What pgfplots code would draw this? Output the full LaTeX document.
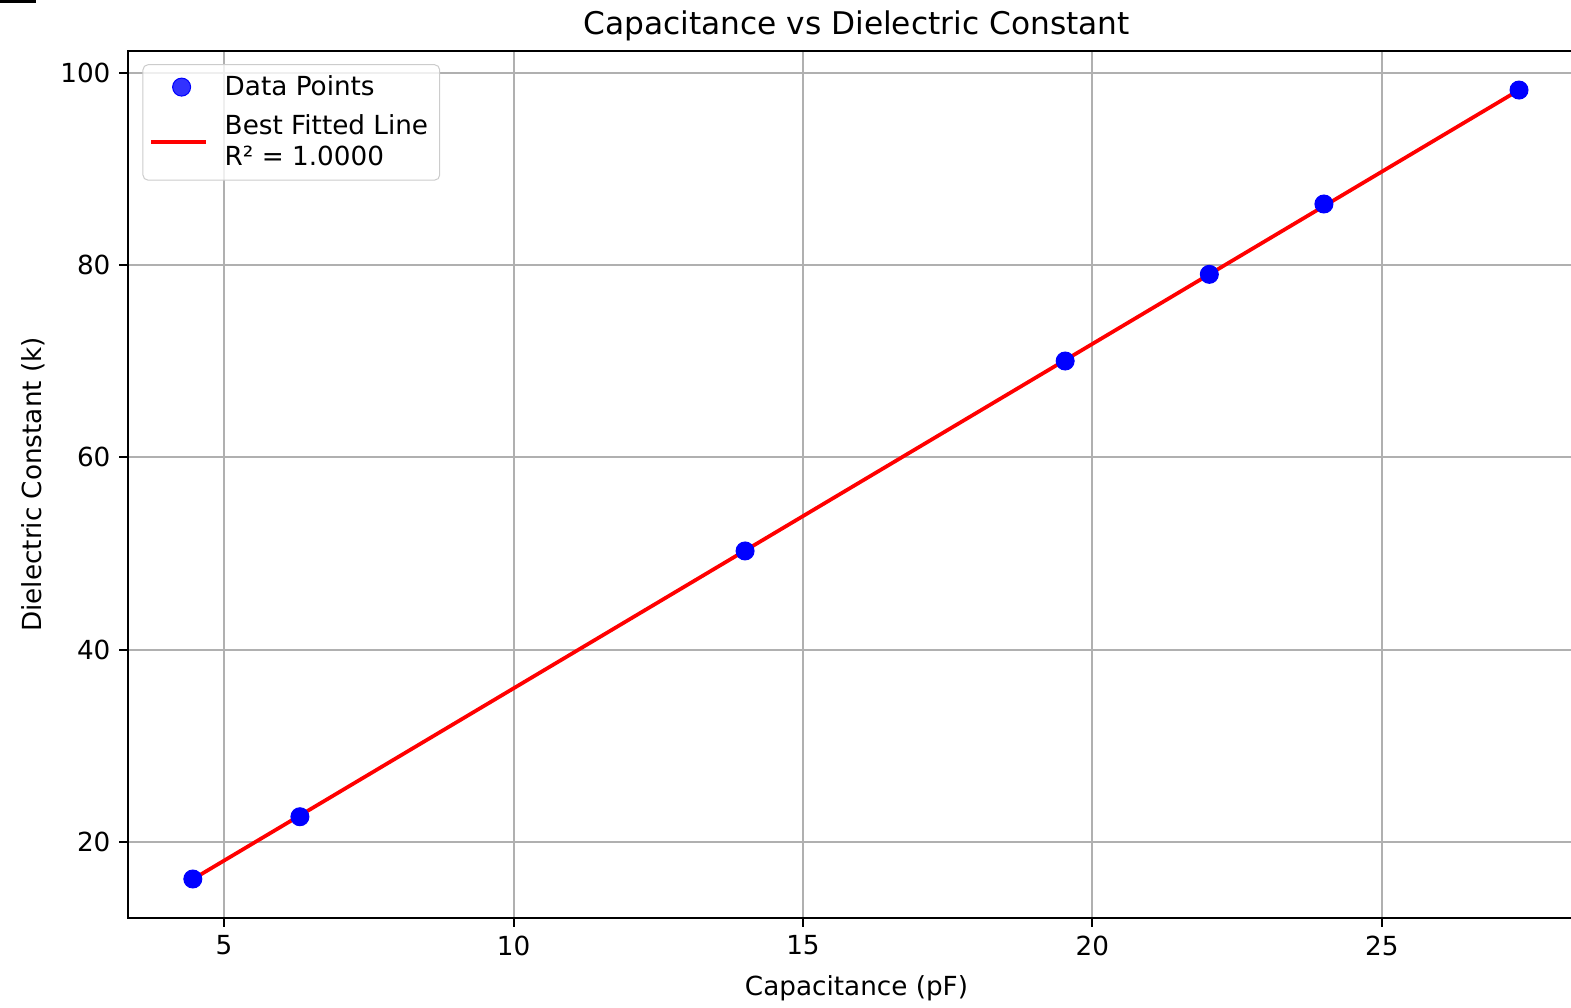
\documentclass[border=0pt]{standalone}
\usepackage{fontspec}
\setmainfont{DejaVu Sans}
\usepackage{pgfplots}
\pgfplotsset{compat=1.18}
\definecolor{gridgray}{HTML}{B0B0B0}
\definecolor{legedge}{HTML}{CCCCCC}
\pgfplotsset{
  linelegend/.style={legend image code/.code={\draw[##1] (-1.2pt,0pt) -- (20.6pt,0pt); \path (25.4pt,0pt);}},
  marklegend/.style={legend image code/.code={\draw[##1] plot coordinates {(10.9pt,0pt)}; \path (-1.2pt,0pt) (25.4pt,0pt);}},
}
\begin{document}
\begin{tikzpicture}
\useasboundingbox (-51.2pt,-35.6pt) rectangle (577.2pt,367.2pt);
\clip (-51.2pt,-35.6pt) rectangle (577.2pt,367.2pt);
\fill[black] (-51.2pt,367.2pt) rectangle (-36.8pt,366.2pt);
\begin{axis}[
  at={(0pt,0pt)}, anchor=south west, scale only axis,
  width=582.8pt, height=346.9pt,
  xmin=3.34, xmax=28.51, ymin=12.06, ymax=102.32,
  xtick={5,10,15,20,25}, ytick={20,40,60,80,100},
  grid=major, grid style={color=gridgray, line width=0.8pt},
  axis line style={line width=0.8pt},
  tick style={black, line width=0.8pt}, tick align=outside,
  major tick length=3.5pt, tick pos=left,
  ticklabel style={font=\fontsize{10.5}{12.5}\selectfont},
  /pgf/number format/assume math mode=true,
  title={Capacitance vs Dielectric Constant},
  title style={font=\fontsize{12.5}{15}\selectfont, at={(axis description cs:0.5,1)}, anchor=south, inner sep=0pt, yshift=-2.2pt},
  xlabel={Capacitance (pF)},
  ylabel={Dielectric Constant (k)},
  xlabel style={font=\fontsize{10.5}{12.5}\selectfont, at={([yshift=-23pt]axis description cs:0.5,0)}, anchor=north, inner sep=0pt},
  ylabel style={font=\fontsize{10.5}{12.5}\selectfont, at={([xshift=-33.2pt]axis description cs:0,0.5)}, anchor=south, inner sep=0pt},
  legend style={at={([xshift=5.8pt,yshift=-5.4pt]axis description cs:0,1)}, anchor=north west,
    draw=legedge, rounded corners=2pt, fill=white, fill opacity=0.8, text opacity=1,
    font=\fontsize{10.5}{12.4}\selectfont, cells={anchor=west, align=left},
    inner xsep=2.6pt, inner ysep=2.2pt, row sep=2.4pt},
]
\addplot[only marks, mark=*, mark size=3.6pt, color=blue, mark options={draw=blue, fill=blue}, marklegend]
  coordinates {(4.46,16.12) (6.31,22.6) (14.0,50.26) (19.53,70.03) (22.02,79.05) (24.0,86.37) (27.37,98.23)};
\addlegendentry{Data Points}
\addplot[color=red, line width=1.5pt, no marks, linelegend]
  coordinates {(4.46,16.1) (27.37,98.23)};
\addlegendentry{Best Fitted Line\\R² = 1.0000}
\end{axis}
\end{tikzpicture}
\end{document}
